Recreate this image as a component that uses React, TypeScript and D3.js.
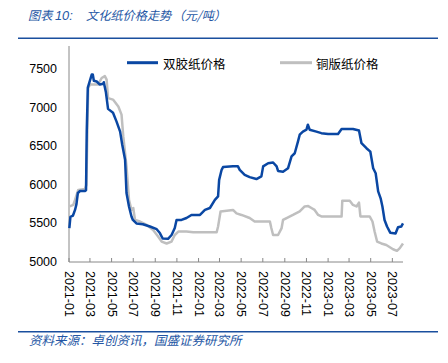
import React from "react";
import * as d3 from "d3";

const blueDates = ["2021-01-02","2021-01-05","2021-01-12","2021-01-18","2021-01-22","2021-01-26","2021-02-01","2021-02-15","2021-02-18","2021-02-20","2021-02-23","2021-03-06","2021-03-09","2021-03-12","2021-03-20","2021-03-29","2021-04-07","2021-04-09","2021-04-15","2021-04-21","2021-05-05","2021-05-15","2021-05-25","2021-05-31","2021-06-08","2021-06-12","2021-06-19","2021-06-26","2021-06-30","2021-07-10","2021-07-28","2021-08-17","2021-09-05","2021-09-14","2021-09-22","2021-10-07","2021-10-17","2021-10-26","2021-10-31","2021-11-14","2021-11-28","2021-12-12","2022-01-05","2022-01-19","2022-02-02","2022-02-16","2022-02-25","2022-02-28","2022-03-07","2022-03-11","2022-04-08","2022-04-22","2022-04-27","2022-05-11","2022-05-25","2022-06-13","2022-06-27","2022-07-02","2022-07-16","2022-07-30","2022-08-09","2022-08-13","2022-08-27","2022-09-10","2022-09-20","2022-09-29","2022-10-08","2022-10-13","2022-10-22","2022-11-01","2022-11-05","2022-11-10","2022-11-29","2022-12-13","2023-01-01","2023-01-29","2023-02-08","2023-03-12","2023-03-29","2023-04-05","2023-04-19","2023-04-30","2023-05-08","2023-05-15","2023-05-22","2023-05-29","2023-06-03","2023-06-09","2023-06-16","2023-06-25","2023-07-10","2023-07-17","2023-07-26","2023-07-31"];
const blueValues = [5440,5585,5600,5675,5750,5895,5920,5920,5930,6700,7260,7430,7430,7350,7340,7300,7310,7330,7200,6985,6935,6820,6690,6520,6325,5895,5720,5590,5545,5500,5490,5460,5425,5375,5305,5300,5350,5440,5545,5545,5570,5610,5610,5675,5700,5805,5850,6065,6195,6230,6240,6240,6195,6130,6100,6075,6110,6240,6280,6290,6240,6180,6170,6215,6370,6410,6560,6650,6690,6715,6780,6715,6690,6670,6660,6660,6725,6725,6705,6540,6475,6430,6215,6150,5915,5825,5720,5545,5460,5380,5370,5450,5460,5500];

const grayDates = ["2021-01-03","2021-01-13","2021-01-18","2021-01-27","2021-02-15","2021-02-19","2021-02-24","2021-03-01","2021-03-24","2021-04-03","2021-04-12","2021-04-17","2021-04-21","2021-05-05","2021-05-20","2021-05-29","2021-06-03","2021-06-12","2021-06-19","2021-06-26","2021-07-01","2021-07-06","2021-07-20","2021-08-08","2021-08-26","2021-09-09","2021-09-19","2021-10-03","2021-10-17","2021-10-26","2021-11-05","2021-11-28","2021-12-17","2022-02-21","2022-02-25","2022-03-04","2022-04-08","2022-04-18","2022-05-02","2022-05-25","2022-06-08","2022-07-21","2022-07-25","2022-07-30","2022-08-13","2022-08-23","2022-08-27","2022-09-06","2022-09-24","2022-10-13","2022-10-27","2022-11-06","2022-11-15","2022-11-24","2022-12-04","2022-12-13","2023-02-08","2023-02-10","2023-03-03","2023-03-12","2023-03-22","2023-03-29","2023-04-02","2023-04-28","2023-05-06","2023-05-12","2023-05-19","2023-05-31","2023-06-14","2023-07-03","2023-07-14","2023-07-22","2023-07-31"];
const grayValues = [5720,5740,5805,5935,5945,6000,7255,7300,7300,7385,7410,7365,7125,7105,7015,6910,6625,6240,5805,5675,5700,5545,5525,5480,5415,5330,5265,5240,5265,5350,5395,5395,5385,5385,5460,5655,5675,5630,5610,5570,5525,5525,5440,5350,5350,5440,5545,5570,5610,5655,5720,5725,5700,5675,5610,5590,5590,5795,5795,5740,5720,5770,5590,5590,5525,5395,5265,5240,5220,5165,5145,5180,5240];

const seriesNames = ["双胶纸价格", "铜版纸价格"];
const yTicks = [5000, 5500, 6000, 6500, 7000, 7500];
const xTickLabels = ["2021-01","2021-03","2021-05","2021-07","2021-09","2021-11","2022-01","2022-03","2022-05","2022-07","2022-09","2022-11","2023-01","2023-03","2023-05","2023-07"];
const titleParts = ["图表", "10:", "文化纸价格走势", "（元/吨）"];
const source = "资料来源：卓创资讯，国盛证券研究所";

const parse = d3.timeParse("%Y-%m-%d");
const parseM = d3.timeParse("%Y-%m");

export default function App() {
  const W = 448, H = 363;
  const left = 69, right = 403, top = 46, bottom = 262;
  const x = d3.scaleTime()
    .domain([parse("2021-01-01")!, parse("2023-07-31")!])
    .range([left, right]);
  const y = d3.scaleLinear().domain([5000, 7800]).range([bottom, top]);

  const blue = blueDates.map((d, i) => ({ d: parse(d)!, v: blueValues[i] }));
  const gray = grayDates.map((d, i) => ({ d: parse(d)!, v: grayValues[i] }));
  const line = d3.line<{ d: Date; v: number }>().x(p => x(p.d)).y(p => y(p.v));

  const blueColor = "#0a47a3";
  const grayColor = "#bfbfbf";
  const headColor = "#2456a4";
  const ruleColor = "#1a4f9e";
  const font = "'Liberation Sans', Arial, sans-serif";
  const cjk = "'Noto Sans CJK SC', sans-serif";
  const titleX = [28, 55, 86, 172.5];
  const titleFonts = [cjk, font, cjk, cjk];

  return (
    <svg width={W} height={H} style={{ position: "absolute", left: 0, top: 0, background: "#fff" }}>
      <rect x={0} y={0} width={W} height={H} fill="#fff" />
      {titleParts.map((p, i) => (
        <text key={i} x={titleX[i]} y={19.5} fontFamily={titleFonts[i]} fontSize={i === 1 ? 12.8 : 12.2}
          fontStyle="italic" fill={headColor}>{p}</text>
      ))}
      <line x1={18} x2={438} y1={38.3} y2={38.3} stroke={ruleColor} strokeWidth={1.5} />

      {/* axes */}
      <line x1={left} x2={left} y1={top} y2={bottom} stroke="#888" strokeWidth={1} />
      <line x1={left} x2={right} y1={bottom} y2={bottom} stroke="#888" strokeWidth={1} />
      {yTicks.map(t => (
        <text key={t} x={57} y={y(t)} textAnchor="end" dominantBaseline="central"
          fontFamily={font} fontSize={12.5} fill="#000">{t}</text>
      ))}
      {xTickLabels.map(t => {
        const xx = x(parseM(t)!);
        return (
          <g key={t}>
            <line x1={xx} x2={xx} y1={bottom} y2={bottom - 4} stroke="#888" strokeWidth={1} />
            <text transform={`translate(${xx},${bottom + 9}) rotate(90)`} dominantBaseline="central"
              fontFamily={font} fontSize={12.5} fill="#000">{t}</text>
          </g>
        );
      })}

      {/* lines */}
      <path d={line(gray)!} fill="none" stroke={grayColor} strokeWidth={2.5} strokeLinejoin="round" />
      <path d={line(blue)!} fill="none" stroke={blueColor} strokeWidth={2.5} strokeLinejoin="round" />

      {/* legend */}
      <line x1={127} x2={158} y1={62.7} y2={62.7} stroke={blueColor} strokeWidth={3} />
      <text x={163} y={63} dominantBaseline="central" fontFamily={cjk} fontSize={12.5} fill="#000">{seriesNames[0]}</text>
      <line x1={280} x2={312} y1={62.7} y2={62.7} stroke={grayColor} strokeWidth={3} />
      <text x={316} y={63} dominantBaseline="central" fontFamily={cjk} fontSize={12.5} fill="#000">{seriesNames[1]}</text>

      <line x1={18} x2={438} y1={331.7} y2={331.7} stroke={ruleColor} strokeWidth={1.5} />
      <text x={29} y={345} fontFamily={cjk} fontSize={12.5} fontStyle="italic" fill={headColor}>{source}</text>
    </svg>
  );
}
